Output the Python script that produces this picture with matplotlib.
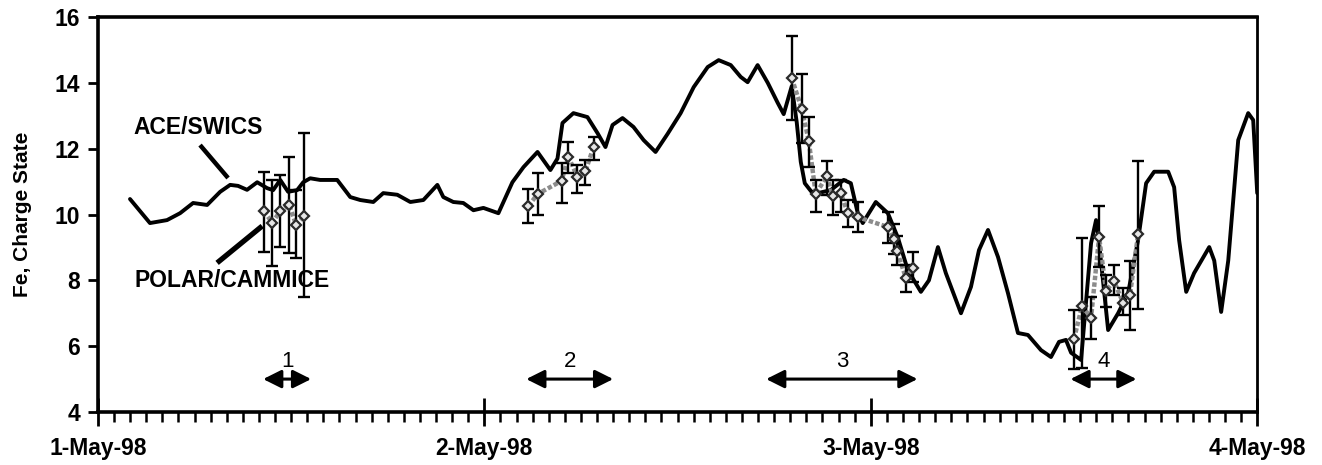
import numpy as np
import matplotlib
matplotlib.use("Agg")
import matplotlib.pyplot as plt
from matplotlib.ticker import MultipleLocator

plt.rcParams['font.family'] = ['Liberation Sans', 'DejaVu Sans']

# ACE/SWICS curve: hours since 1-May-98 00:00, Fe charge state
ace_hours = [1.99, 3.23, 4.29, 5.10, 5.91, 6.78, 7.59, 8.21, 8.70, 9.26, 9.89, 10.51,
             10.88, 11.32, 11.81, 12.37, 12.75, 13.18, 13.80, 14.86, 15.67, 16.29, 17.10,
             17.72, 18.59, 19.40, 20.21, 21.08, 21.45, 22.07, 22.69, 23.32, 23.94, 24.87,
             25.74, 26.43, 27.30, 28.10, 28.54, 28.85, 29.53, 30.40, 31.03, 31.52, 31.96,
             32.58, 33.26, 33.89, 34.63, 35.38, 36.19, 37.00, 37.87, 38.55, 39.30, 39.92,
             40.35, 40.97, 41.60, 42.22, 42.59, 43.09, 43.40, 43.65, 43.90, 44.30, 44.71,
             45.51, 46.32, 46.76, 47.19, 47.50, 48.31, 49.06, 49.68, 50.30, 51.11, 51.61,
             52.17, 52.66, 53.60, 54.22, 54.72, 55.28, 55.90, 56.52, 57.14, 57.76, 58.57,
             59.19, 59.69, 60.12, 60.44, 61.06, 61.68, 61.99, 62.18, 62.74, 63.36, 63.98,
             64.60, 65.10, 65.60, 66.47, 66.84, 67.15, 67.59, 68.08, 69.02, 69.33, 69.76,
             70.20, 70.82, 71.44, 71.75, 72.00]
ace_values = [10.47, 9.74, 9.83, 10.04, 10.35, 10.29, 10.69, 10.90, 10.87, 10.75, 10.98, 10.80,
              10.74, 11.05, 10.69, 10.74, 10.98, 11.10, 11.05, 11.05, 10.53, 10.44, 10.38,
              10.65, 10.60, 10.38, 10.44, 10.90, 10.53, 10.38, 10.35, 10.13, 10.20, 10.04,
              10.98, 11.44, 11.90, 11.35, 11.70, 12.78, 13.08, 12.96, 12.47, 12.05, 12.72,
              12.93, 12.66, 12.26, 11.90, 12.45, 13.08, 13.87, 14.48, 14.69, 14.54, 14.18,
              14.02, 14.54, 14.00, 13.39, 13.05, 13.90, 12.80, 11.60, 10.95, 10.70, 10.65,
              10.74, 11.05, 10.95, 10.04, 9.74, 10.38, 10.04, 9.30, 8.31, 7.65, 8.00,
              9.01, 8.22, 7.00, 7.80, 8.92, 9.53, 8.71, 7.61, 6.40, 6.34, 5.88,
              5.67, 6.13, 6.19, 5.80, 5.58, 9.13, 9.83, 9.13, 6.49, 7.00, 7.61,
              9.22, 10.95, 11.30, 11.30, 10.83, 9.22, 7.65, 8.22, 9.01, 8.60, 7.04,
              8.60, 12.26, 13.08, 12.87, 10.65]

# POLAR/CAMMICE points, four intervals
polar_group = [1] * 6 + [2] * 7 + [3] * 14 + [4] * 9
polar_hours = [10.32, 10.82, 11.32, 11.88, 12.31, 12.81,
               26.74, 27.30, 28.79, 29.22, 29.78, 30.28, 30.78,
               43.09, 43.71, 44.15, 44.58, 45.27, 45.64, 46.14, 46.57, 47.19, 49.06, 49.43,
               49.62, 50.18, 50.61,
               60.62, 61.12, 61.68, 62.18, 62.61, 63.11, 63.67, 64.10, 64.60]
polar_values = [10.10, 9.75, 10.10, 10.29, 9.68, 9.95,
                10.26, 10.62, 11.02, 11.75, 11.14, 11.32, 12.05,
                14.15, 13.20, 12.23, 10.62, 11.17, 10.56, 10.65, 10.04, 9.92, 9.62, 9.26,
                8.90, 8.07, 8.38,
                6.22, 7.22, 6.86, 9.32, 7.68, 7.98, 7.31, 7.56, 9.40]
polar_top = [11.29, 11.05, 11.20, 11.75, 10.74, 12.48,
             10.77, 11.26, 11.56, 12.20, 11.50, 11.65, 12.35,
             15.42, 14.27, 12.96, 11.05, 11.62, 11.05, 11.05, 10.44, 10.38, 10.08, 9.70,
             9.35, 8.47, 8.86,
             7.10, 9.28, 7.50, 10.26, 8.16, 8.47, 7.77, 8.59, 11.62]
polar_bottom = [8.86, 8.44, 9.00, 8.83, 8.68, 7.50,
                9.74, 9.98, 10.35, 11.26, 10.65, 10.90, 11.65,
                12.87, 12.17, 11.44, 10.08, 10.60, 9.98, 10.08, 9.62, 9.47, 9.13, 8.80,
                8.47, 7.65, 7.95,
                5.30, 5.35, 6.22, 8.40, 7.19, 7.56, 6.95, 6.49, 7.13]

# numbered intervals (start hour, end hour, label)
interval_start = [10.26, 26.6, 41.5, 60.4]
interval_end = [13.24, 32.0, 50.9, 64.5]
interval_label = ['1', '2', '3', '4']

day_labels = ['1-May-98', '2-May-98', '3-May-98', '4-May-98']

fig = plt.figure(figsize=(13.22, 4.65), dpi=100)
ax = fig.add_axes([0.0741, 0.114, 0.8769, 0.8494])

ax.plot(ace_hours, ace_values, color='black', lw=2.8, zorder=3,
        solid_joinstyle='round', solid_capstyle='round')

ph = np.array(polar_hours)
pv = np.array(polar_values)
pt = np.array(polar_top)
pb = np.array(polar_bottom)
pg = np.array(polar_group)
for g in sorted(set(polar_group)):
    m = pg == g
    ax.plot(ph[m], pv[m], color='#8c8c8c', lw=3.2, ls=(0, (1, 0.5)), zorder=4)
    ax.errorbar(ph[m], pv[m], yerr=[pv[m] - pb[m], pt[m] - pv[m]], fmt='none',
                ecolor='black', elinewidth=1.7, capsize=4.5, capthick=1.7, zorder=5)
    ax.plot(ph[m], pv[m], ls='none', marker='D', ms=5.5, mfc='#e6e6e6', mec='#2a2a2a',
            mew=1.6, zorder=6)

for s, e, lab in zip(interval_start, interval_end, interval_label):
    ax.annotate('', xy=(s, 5.0), xytext=(e, 5.0),
                arrowprops=dict(arrowstyle='<|-|>,head_length=1.1,head_width=0.55',
                                color='black', lw=2.2, shrinkA=0, shrinkB=0))
    ax.text((s + e) / 2, 5.22, lab, ha='center', va='bottom', fontsize=16)

ax.text(6.22, 12.63, 'ACE/SWICS', ha='center', va='center', fontsize=16.5, fontweight='bold')
ax.plot([6.34, 8.08], [12.11, 11.11], color='black', lw=3.2, solid_capstyle='butt')
ax.text(8.33, 7.98, 'POLAR/CAMMICE', ha='center', va='center', fontsize=16.5, fontweight='bold')
ax.plot([7.40, 10.20], [8.53, 9.65], color='black', lw=3.8, solid_capstyle='butt')

ax.set_xlim(0, 72)
ax.set_ylim(4, 16)
ax.set_xticks([0, 24, 48, 72])
ax.set_xticklabels(day_labels, fontsize=16.5, fontweight='bold')
ax.xaxis.set_minor_locator(MultipleLocator(1))
ax.set_yticks(range(4, 17, 2))
ax.set_yticklabels([str(v) for v in range(4, 17, 2)], fontsize=16.5, fontweight='bold')
ax.tick_params(axis='x', which='major', direction='inout', length=20, width=2, pad=8)
ax.tick_params(axis='x', which='minor', direction='out', length=7, width=1.8)
ax.tick_params(axis='y', which='major', direction='out', length=7, width=2, pad=6)
ax.set_ylabel('Fe, Charge State', fontsize=15, fontweight='bold', labelpad=16)

for side in ['left', 'bottom', 'top']:
    ax.spines[side].set_linewidth(2.6)
ax.spines['right'].set_linewidth(2)

fig.savefig('out.png', dpi=100)
